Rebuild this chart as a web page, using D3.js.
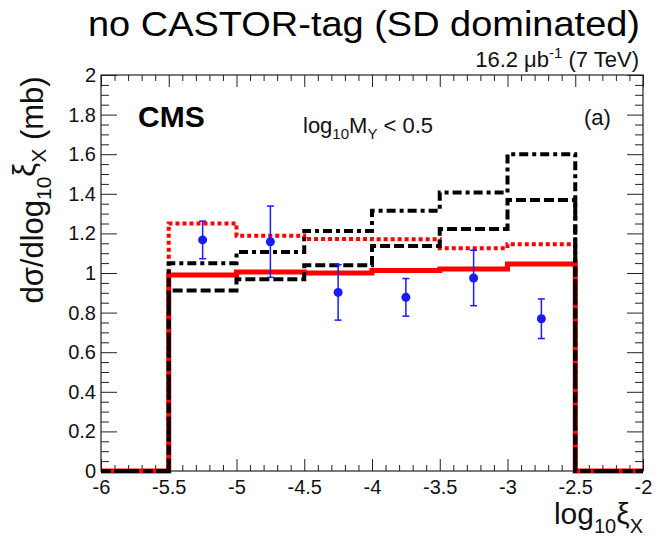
<!DOCTYPE html>
<html><head><meta charset="utf-8">
<script src="https://cdn.jsdelivr.net/npm/d3@7"></script>
<style>
body{margin:0;background:#fff;}
text{font-family:"Liberation Sans",Arial,sans-serif;}
</style></head>
<body><svg id="c" width="658" height="540"></svg>
<script>
// ---- data ----
const binEdges = [-6, -5.5, -5, -4.5, -4, -3.5, -3, -2.5, -2];
const redSolid  = [0, 0.99, 1.005, 1.00, 1.012, 1.02, 1.045, 0];
const redDotted = [0, 1.25, 1.188, 1.172, 1.17, 1.125, 1.145, 0];
const blackDashed  = [0, 0.911, 0.968, 1.039, 1.136, 1.222, 1.369, 0];
const blackDashDot = [0, 1.049, 1.106, 1.212, 1.315, 1.406, 1.60, 0];
const dataX   = [-5.25, -4.75, -4.25, -3.75, -3.25, -2.75];
const dataY   = [1.167, 1.158, 0.902, 0.877, 0.975, 0.769];
const dataErr = [0.095, 0.18, 0.14, 0.095, 0.14, 0.10];
const xTicks = [-6, -5.5, -5, -4.5, -4, -3.5, -3, -2.5, -2];
const xTickLabels = ["-6", "-5.5", "-5", "-4.5", "-4", "-3.5", "-3", "-2.5", "-2"];
const yTicks = [0, 0.2, 0.4, 0.6, 0.8, 1, 1.2, 1.4, 1.6, 1.8, 2];
const yTickLabels = ["0", "0.2", "0.4", "0.6", "0.8", "1", "1.2", "1.4", "1.6", "1.8", "2"];

const svg = d3.select("#c");
const L = 101, R = 643, T = 75, B = 471;
const x = d3.scaleLinear().domain([-6, -2]).range([L, R]);
const y = d3.scaleLinear().domain([0, 2]).range([B, T]);

// minor ticks
const xMinor = d3.range(-6, -1.999, 0.1).map(v => +v.toFixed(2)).filter(v => !xTicks.some(t => Math.abs(t - v) < 1e-6));
const yMinor = d3.range(0, 2.0001, 0.05).map(v => +v.toFixed(3)).filter(v => !yTicks.some(t => Math.abs(t - v) < 1e-6));

function styleAxis(g) {
  g.select(".domain").remove();
  g.selectAll("line").attr("stroke", "#222").attr("stroke-width", 1);
  g.selectAll("text").attr("font-size", 20).attr("fill", "#111")
   .attr("font-family", "Liberation Sans, Arial, sans-serif");
}
// bottom
svg.append("g").attr("transform", `translate(0,${B})`)
  .call(d3.axisBottom(x).tickValues(xTicks).tickSize(-12).tickPadding(9)
        .tickFormat((d, i) => xTickLabels[i])).call(styleAxis);
svg.append("g").attr("transform", `translate(0,${B})`)
  .call(d3.axisBottom(x).tickValues(xMinor).tickSize(-6).tickFormat("")).call(styleAxis);
// top
svg.append("g").attr("transform", `translate(0,${T})`)
  .call(d3.axisTop(x).tickValues(xTicks).tickSize(-12).tickFormat("")).call(styleAxis);
svg.append("g").attr("transform", `translate(0,${T})`)
  .call(d3.axisTop(x).tickValues(xMinor).tickSize(-6).tickFormat("")).call(styleAxis);
// left
svg.append("g").attr("transform", `translate(${L},0)`)
  .call(d3.axisLeft(y).tickValues(yTicks).tickSize(-16).tickPadding(5)
        .tickFormat((d, i) => yTickLabels[i])).call(styleAxis);
svg.append("g").attr("transform", `translate(${L},0)`)
  .call(d3.axisLeft(y).tickValues(yMinor).tickSize(-8).tickFormat("")).call(styleAxis);
// right
svg.append("g").attr("transform", `translate(${R},0)`)
  .call(d3.axisRight(y).tickValues(yTicks).tickSize(-16).tickFormat("")).call(styleAxis);
svg.append("g").attr("transform", `translate(${R},0)`)
  .call(d3.axisRight(y).tickValues(yMinor).tickSize(-8).tickFormat("")).call(styleAxis);

// frame
svg.append("rect").attr("x", L).attr("y", T).attr("width", R - L).attr("height", B - T)
  .attr("fill", "none").attr("stroke", "#222").attr("stroke-width", 1.2);

// histograms
const step = d3.line().x(d => x(d[0])).y(d => y(d[1])).curve(d3.curveStepAfter);
function pts(vals) {
  const p = vals.map((v, i) => [binEdges[i], v]);
  p.push([binEdges[binEdges.length - 1], vals[vals.length - 1]]);
  return p;
}
const series = [
  {v: redSolid, c: "#ff0000", w: 5, dash: null},
  {v: redDotted, c: "#ff0000", w: 4, dash: "4,3"},
  {v: blackDashed, c: "#000", w: 4, dash: "10,4"},
  {v: blackDashDot, c: "#000", w: 4, dash: "9,4,4,4"}
];
series.forEach(s => {
  svg.append("path").attr("d", step(pts(s.v))).attr("fill", "none")
    .attr("stroke", s.c).attr("stroke-width", s.w)
    .attr("stroke-dasharray", s.dash).attr("stroke-linejoin", "miter");
});

// data points
const pg = svg.append("g");
dataX.forEach((xv, i) => {
  const cx = x(xv), y0 = y(dataY[i] - dataErr[i]), y1 = y(dataY[i] + dataErr[i]);
  pg.append("line").attr("x1", cx).attr("x2", cx).attr("y1", y0).attr("y2", y1)
    .attr("stroke", "#1a1aff").attr("stroke-width", 1.5);
  [y0, y1].forEach(yy => pg.append("line").attr("x1", cx - 3.5).attr("x2", cx + 3.5)
    .attr("y1", yy).attr("y2", yy).attr("stroke", "#1a1aff").attr("stroke-width", 1.5));
  pg.append("circle").attr("cx", cx).attr("cy", y(dataY[i])).attr("r", 4.5).attr("fill", "#1a1aff");
});

// texts
svg.append("text").attr("x", 88).attr("y", 36).attr("font-size", 35).attr("fill", "#000")
  .attr("textLength", 552).attr("lengthAdjust", "spacingAndGlyphs")
  .text("no CASTOR-tag (SD dominated)");
const sub = svg.append("text").attr("x", 639).attr("y", 67).attr("font-size", 22)
  .attr("text-anchor", "end").attr("fill", "#111");
sub.append("tspan").text("16.2 μb");
sub.append("tspan").attr("font-size", 15).attr("dy", -9).text("-1");
sub.append("tspan").attr("dy", 9).text(" (7 TeV)");

svg.append("text").attr("x", 138).attr("y", 127).attr("font-size", 30).attr("font-weight", "bold")
  .attr("fill", "#000").text("CMS");
svg.append("text").attr("x", 584).attr("y", 125).attr("font-size", 22).attr("fill", "#111").text("(a)");

const ml = svg.append("text").attr("x", 303).attr("y", 133).attr("font-size", 22).attr("fill", "#111");
ml.append("tspan").text("log");
ml.append("tspan").attr("font-size", 15).attr("dy", 6).text("10");
ml.append("tspan").attr("dy", -6).text("M");
ml.append("tspan").attr("font-size", 15).attr("dy", 6).text("Y");
ml.append("tspan").attr("dy", -6).text(" < 0.5");

const yl = svg.append("text").attr("transform", "translate(43,190) rotate(-90)")
  .attr("text-anchor", "middle").attr("font-size", 31).attr("fill", "#111");
yl.append("tspan").text("dσ/dlog");
yl.append("tspan").attr("font-size", 21).attr("dy", 8).text("10");
yl.append("tspan").attr("dy", -16).text("ξ");
yl.append("tspan").attr("font-size", 21).attr("dy", 11).text("X");
yl.append("tspan").attr("dy", -3).text(" (mb)");

const xl = svg.append("text").attr("x", 643).attr("y", 524).attr("text-anchor", "end")
  .attr("font-size", 30).attr("fill", "#111");
xl.append("tspan").text("log");
xl.append("tspan").attr("font-size", 20).attr("dy", 9).text("10");
xl.append("tspan").attr("dy", -9).text("ξ");
xl.append("tspan").attr("font-size", 20).attr("dy", 9).text("X");
</script></body></html>
